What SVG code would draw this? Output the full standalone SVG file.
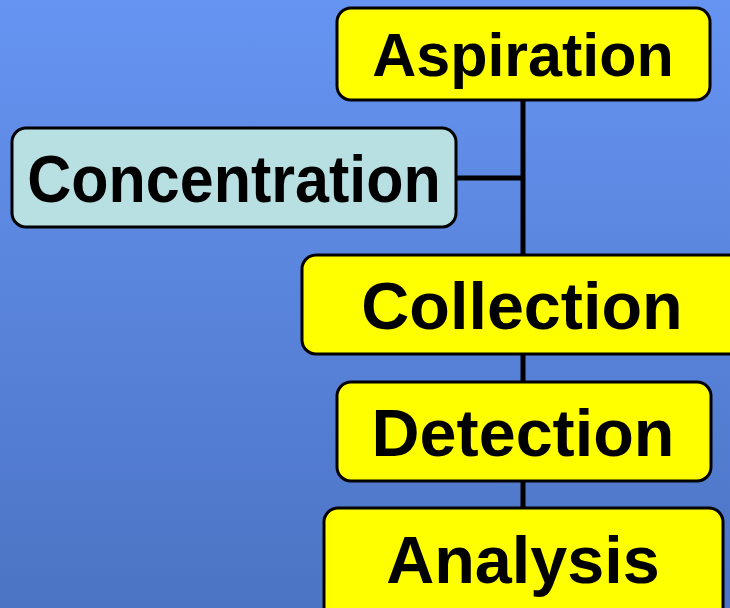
<svg xmlns="http://www.w3.org/2000/svg" width="730" height="608" viewBox="0 0 730 608">
<style>
.box{stroke:#000;stroke-width:3}
.y{fill:#FFFF00}
.c{fill:#B8E0E2}
.t{font-family:"Liberation Sans",Arial,sans-serif;font-weight:bold;font-size:61px;fill:#000;text-anchor:middle}
.big{font-size:66.5px}
.ln{stroke:#000;stroke-width:5;fill:none}
</style>
<defs>
<linearGradient id="bg" x1="0" y1="0" x2="0" y2="1">
<stop offset="0" stop-color="#6694F2"/>
<stop offset="1" stop-color="#4C74C4"/>
</linearGradient>
</defs>
<rect width="730" height="608" fill="url(#bg)"/>
<g id="connectors">
<path class="ln" d="M523,100 V256"/>
<path class="ln" d="M457,178 H523"/>
<path class="ln" d="M523,354 V382"/>
<path class="ln" d="M523,481 V508"/>
</g>
<g id="aspiration">
<rect class="box y" x="337" y="8" width="373" height="92" rx="14"/>
<text class="t" x="523" y="76">Aspiration</text>
</g>
<g id="concentration">
<rect class="box c" x="12" y="128" width="444" height="99" rx="14"/>
<text class="t" transform="translate(234,202) scale(1,1.1)" x="0" y="0">Concentration</text>
</g>
<g id="collection">
<rect class="box y" x="302" y="255" width="450" height="99" rx="14"/>
<text class="t big" x="522" y="329">Collection</text>
</g>
<g id="detection">
<rect class="box y" x="337" y="382" width="374" height="99" rx="14"/>
<text class="t big" x="523" y="456">Detection</text>
</g>
<g id="analysis">
<rect class="box y" x="324" y="508" width="399" height="120" rx="14"/>
<text class="t big" x="523" y="583">Analysis</text>
</g>
</svg>
